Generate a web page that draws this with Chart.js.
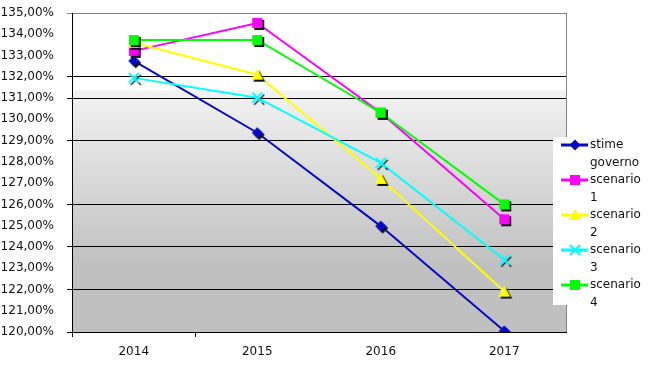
<!DOCTYPE html>
<html>
<head>
<meta charset="utf-8">
<script src="https://cdn.jsdelivr.net/npm/chart.js@4/dist/chart.umd.min.js"></script>
<style>
  html, body { margin: 0; padding: 0; background: #fff; }
  #wrap { width: 654px; height: 380px; }
</style>
</head>
<body>
<div id="wrap"><canvas id="chart-area-1" width="654" height="380"></canvas></div>
<script>

// data
var years         = ["2014", "2015", "2016", "2017"];
var stime_governo = [132.75, 129.37, 124.98, 120.05];
var scenario_1    = [133.22, 134.53, 130.31, 125.30];
var scenario_2    = [133.60, 132.10, 127.20, 121.90];
var scenario_3    = [131.95, 131.02, 127.95, 123.40];
var scenario_4    = [133.73, 133.73, 130.31, 126.00];

// the only grid lines that survive in the picture
var shown_lines = [132, 131, 129, 126, 124, 122, 120];

var FONT = "'DejaVu Sans', Verdana, sans-serif";


function draw_shape(ctx, shape, cx, cy, color, lw) {
    ctx.fillStyle = color;
    ctx.strokeStyle = color;
    ctx.beginPath();
    switch (shape) {
        case "diamond":
            ctx.moveTo(cx, cy - 5.5);
            ctx.lineTo(cx + 5.5, cy);
            ctx.lineTo(cx, cy + 5.5);
            ctx.lineTo(cx - 5.5, cy);
            ctx.closePath();
            ctx.fill();
            break;
        case "square":
            ctx.rect(cx - 5, cy - 5, 10, 10);
            ctx.fill();
            break;
        case "triangle":
            ctx.moveTo(cx, cy - 6);
            ctx.lineTo(cx + 6, cy + 5);
            ctx.lineTo(cx - 6, cy + 5);
            ctx.closePath();
            ctx.fill();
            break;
        case "cross":
            ctx.lineWidth = lw || 2;
            ctx.moveTo(cx - 5, cy - 5);
            ctx.lineTo(cx + 5, cy + 5);
            ctx.moveTo(cx + 5, cy - 5);
            ctx.lineTo(cx - 5, cy + 5);
            ctx.stroke();
            break;
        default:
            // Nothing
    }
}

// marker with the dark drop shadow seen in the picture
function make_marker(shape, color) {
    var c = document.createElement("canvas");
    c.width = 22;
    c.height = 22;
    var ctx = c.getContext("2d");
    draw_shape(ctx, shape, 13, 13, "#111", shape == "cross" ? 1.2 : 2);
    draw_shape(ctx, shape, 11, 11, color, 2);
    return c;
}

var series = [
    { label: "stime governo", data: stime_governo, color: "#0808c8", shape: "diamond" },
    { label: "scenario 1",    data: scenario_1,    color: "#ff00ff", shape: "square" },
    { label: "scenario 2",    data: scenario_2,    color: "#ffff00", shape: "triangle" },
    { label: "scenario 3",    data: scenario_3,    color: "#00ffff", shape: "cross" },
    { label: "scenario 4",    data: scenario_4,    color: "#00ff00", shape: "square" }
];

var datasets = series.map(function(s, i) {
    return {
        label: s.label,
        data: s.data,
        borderColor: s.color,
        backgroundColor: s.color,
        borderWidth: 2,
        pointStyle: make_marker(s.shape, s.color),
        pointRadius: 6,
        tension: 0,
        fill: false,
        order: series.length - i,
        shape: s.shape
    };
});


var background_plugin = {
    id: "plot_background",
    beforeDraw: function(chart) {
        var ctx = chart.ctx;
        var a = chart.chartArea;
        var y = chart.scales.y;
        var g = ctx.createLinearGradient(0, a.top, 0, a.bottom);
        var p1 = (y.getPixelForValue(131.35) - a.top) / (a.bottom - a.top);
        var p2 = (y.getPixelForValue(123.1) - a.top) / (a.bottom - a.top);
        g.addColorStop(0, "#ffffff");
        g.addColorStop(p1 - 0.001, "#ffffff");
        g.addColorStop(p1, "#f2f2f2");
        g.addColorStop(p2, "#c0c0c0");
        g.addColorStop(1, "#c0c0c0");
        ctx.save();
        ctx.fillStyle = g;
        ctx.fillRect(a.left, a.top, a.right - a.left, a.bottom - a.top);
        // right border of the plot area
        ctx.strokeStyle = "#808080";
        ctx.lineWidth = 1;
        ctx.beginPath();
        ctx.moveTo(Math.round(a.right) + 0.5, a.top);
        ctx.lineTo(Math.round(a.right) + 0.5, a.bottom);
        ctx.stroke();
        ctx.restore();
    }
};


var legend_plugin = {
    id: "side_legend",
    afterDraw: function(chart) {
        var ctx = chart.ctx;
        ctx.save();
        ctx.fillStyle = "#ffffff";
        ctx.fillRect(553, 137, 101, 168);
        ctx.font = "12px " + FONT;
        ctx.textBaseline = "middle";
        ctx.textAlign = "left";
        chart.data.datasets.forEach(function(ds, i) {
            var y0 = 145 + 35 * i;
            ctx.strokeStyle = ds.borderColor;
            ctx.lineWidth = 3;
            ctx.beginPath();
            ctx.moveTo(561, y0);
            ctx.lineTo(588, y0);
            ctx.stroke();
            draw_shape(ctx, ds.shape, 575, y0, ds.borderColor, 2);
            var words = ds.label.split(" ");
            ctx.fillStyle = "#111";
            ctx.fillText(words[0], 590, y0);
            ctx.fillText(words[1], 590, y0 + 17.5);
        });
        ctx.restore();
    }
};


var config = {
    type: "line",
    data: {
        labels: years,
        datasets: datasets
    },
    options: {
        responsive: false,
        animation: false,
        layout: { padding: { top: 13, right: 88, left: 0, bottom: 0 } },
        plugins: {
            legend: { display: false },
            tooltip: { enabled: false }
        },
        scales: {
            x: {
                offset: true,
                afterFit: function(scale) { scale.height = 48; },
                grid: {
                    offset: true,
                    drawOnChartArea: false,
                    tickLength: 5,
                    color: function(c) { return c.index <= 1 ? "#000" : "rgba(0,0,0,0)"; }
                },
                border: { color: "#000", width: 1 },
                ticks: {
                    color: "#111",
                    padding: 8,
                    font: { family: FONT, size: 12 }
                }
            },
            y: {
                min: 120,
                max: 135,
                afterFit: function(scale) {
                    scale.width = 72;
                    scale.paddingTop = 0;
                    scale.paddingBottom = 0;
                },
                grid: {
                    tickLength: 5,
                    color: function(c) {
                        if (c.tick.value == 135) return "#808080";
                        return shown_lines.indexOf(c.tick.value) >= 0 ? "#000" : "rgba(0,0,0,0)";
                    }
                },
                border: { color: "#000", width: 1 },
                ticks: {
                    stepSize: 1,
                    color: "#111",
                    padding: 13,
                    font: { family: FONT, size: 12 },
                    callback: function(v) { return v.toFixed(2).replace(".", ",") + "%"; }
                }
            }
        }
    },
    plugins: [background_plugin, legend_plugin]
};

var ctx = document.getElementById("chart-area-1").getContext("2d");
window.myLine = new Chart(ctx, config);

</script>
</body>
</html>
